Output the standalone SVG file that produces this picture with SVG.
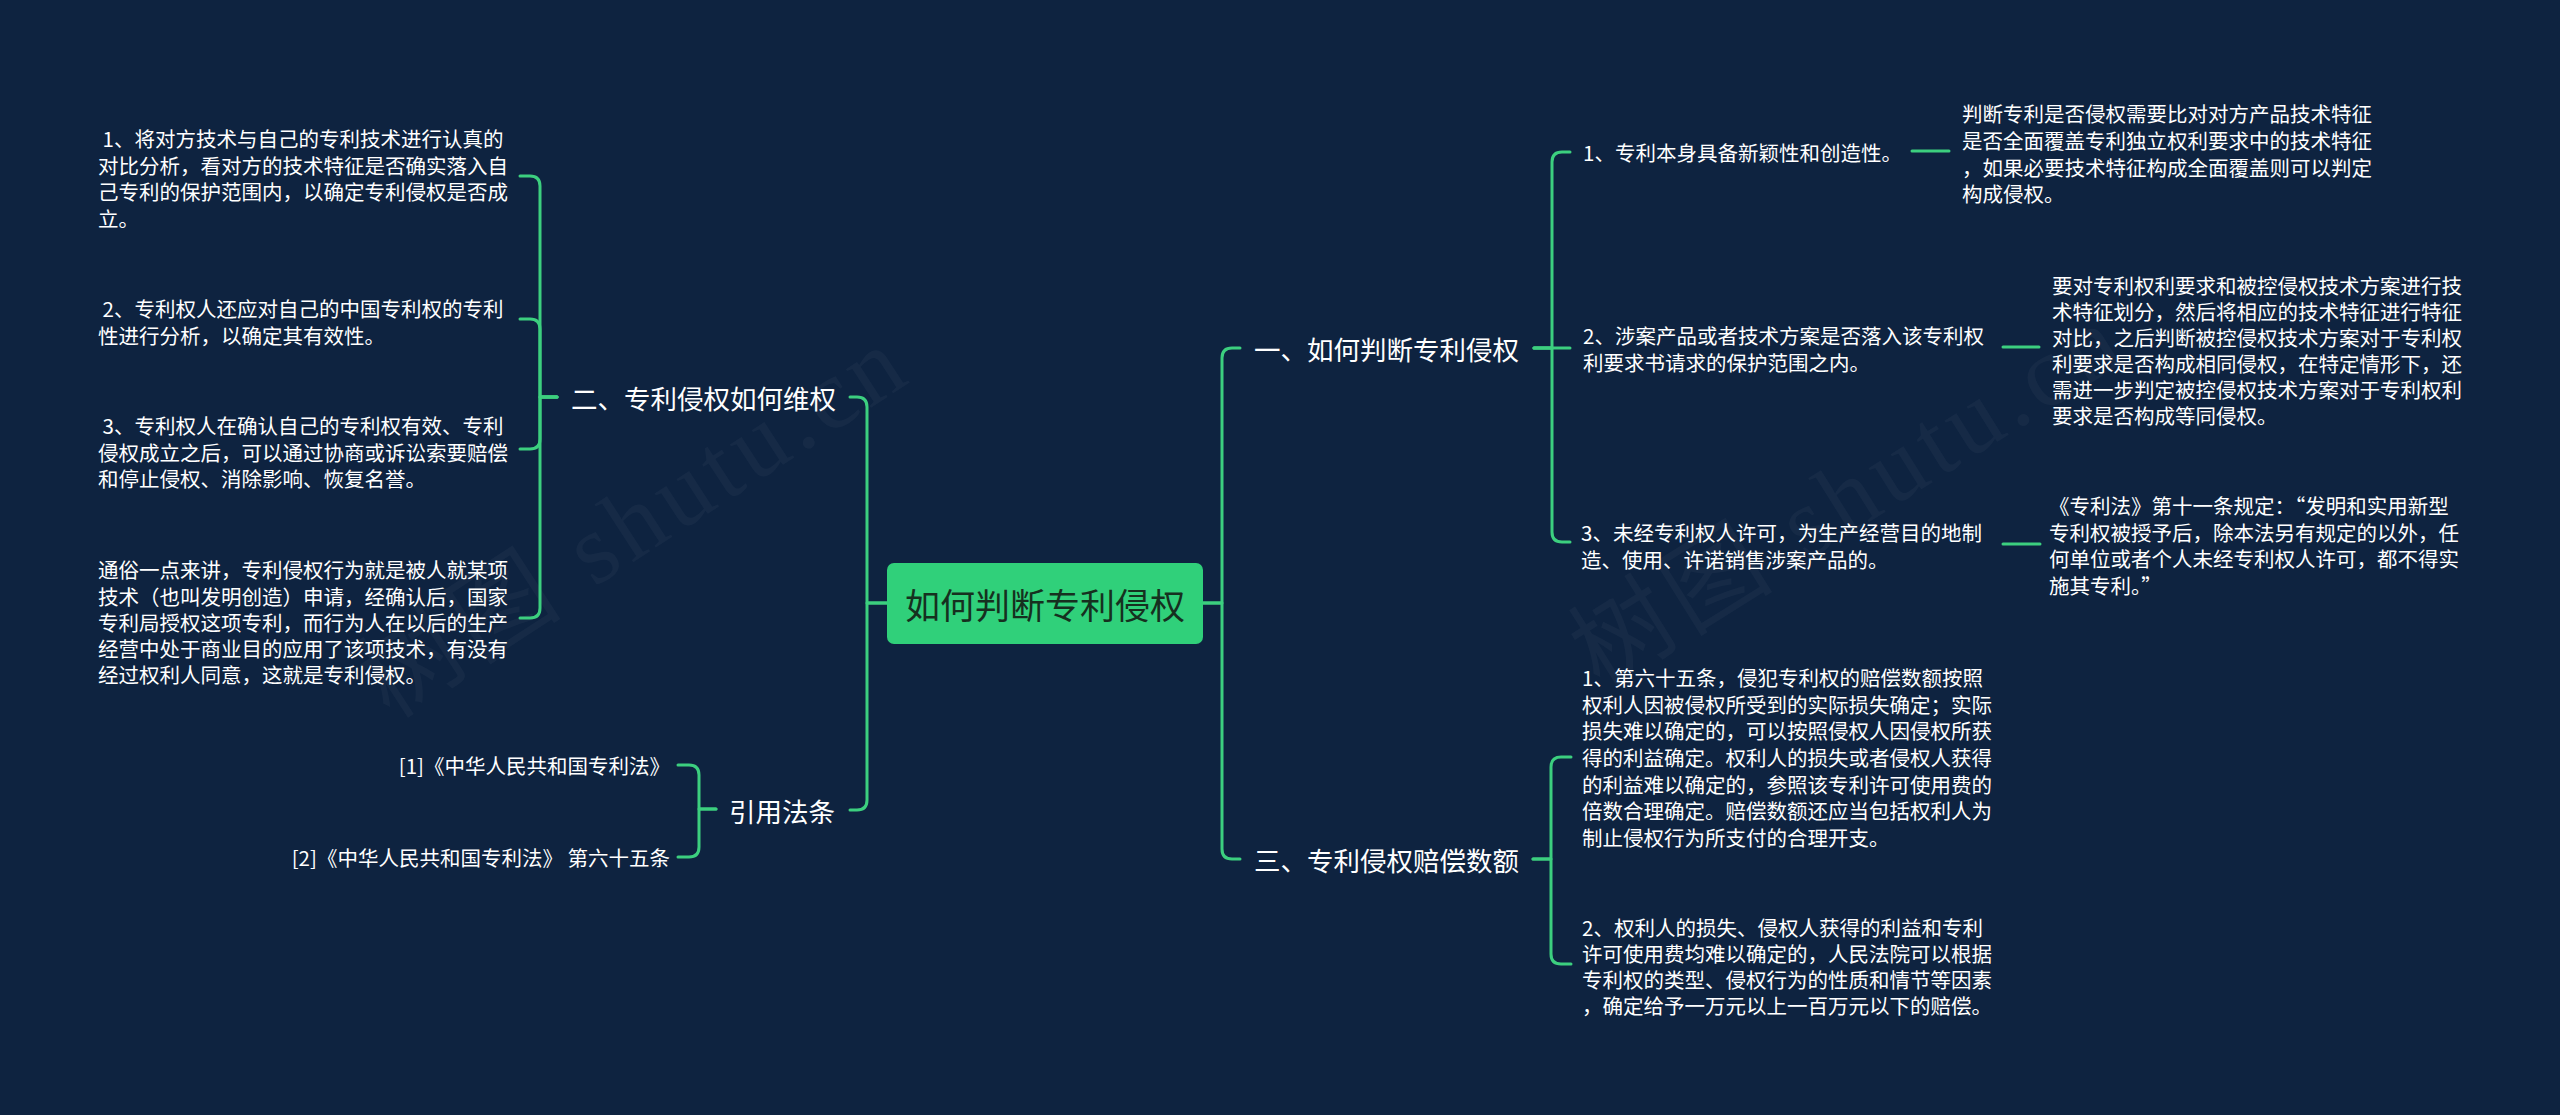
<svg xmlns="http://www.w3.org/2000/svg" width="2560" height="1115" viewBox="0 0 2560 1115">
<style>
.t{font-family:"Noto Sans CJK SC","Noto Sans",sans-serif;fill:#ffffff;dominant-baseline:central}
.leaf{font-size:20.5px}
.l1{font-size:26.5px}
.root{font-size:35px;fill:#16301f}
.wm{font-family:"Liberation Serif","Noto Sans CJK SC",serif;font-size:100px;fill:#ffffff;fill-opacity:0.035}
.c{fill:none;stroke:#3ccf7f;stroke-width:3;stroke-linecap:round;stroke-linejoin:round}
</style>
<rect width="2560" height="1115" fill="#0e2340"/>
<g id="watermark">
<text class="wm" transform="translate(390,720) rotate(-33)" letter-spacing="6">树图 shutu.cn</text>
<text class="wm" transform="translate(1600,690) rotate(-32)" letter-spacing="6">树图 shutu.cn</text>
</g>
<g id="connectors">
<path class="c" d="M887,603 H867 V407 Q867,397 857,397 H850"/>
<path class="c" d="M887,603 H867 V800 Q867,810 857,810 H850"/>
<path class="c" d="M1203,603 H1222 V358 Q1222,348 1232,348 H1240"/>
<path class="c" d="M1203,603 H1222 V849 Q1222,859 1232,859 H1240"/>
<path class="c" d="M557,397 H540 V186 Q540,176 530,176 H520"/>
<path class="c" d="M557,397 H540 V329 Q540,319 530,319 H520"/>
<path class="c" d="M557,397 H540 V439 Q540,449 530,449 H520"/>
<path class="c" d="M557,397 H540 V608 Q540,618 530,618 H520"/>
<path class="c" d="M716,809 H699 V775 Q699,765 689,765 H678"/>
<path class="c" d="M716,809 H699 V847 Q699,857 689,857 H678"/>
<path class="c" d="M1534,348 H1552 V162 Q1552,152 1562,152 H1570"/>
<path class="c" d="M1534,348 H1570"/>
<path class="c" d="M1534,348 H1552 V532 Q1552,542 1562,542 H1570"/>
<path class="c" d="M1533,859 H1551 V767 Q1551,757 1561,757 H1571"/>
<path class="c" d="M1533,859 H1551 V954 Q1551,964 1561,964 H1571"/>
<path class="c" d="M1912,151 H1949"/>
<path class="c" d="M2003,347 H2039"/>
<path class="c" d="M2003,544 H2040"/>
</g>
<g id="root">
<rect x="887" y="563" width="316" height="81" rx="7" fill="#30d07a"/>
<text class="t root" x="1045" y="603" text-anchor="middle">如何判断专利侵权</text>
</g>
<g id="n-left-2">
<text class="t l1" x="571" y="397">二、专利侵权如何维权</text>
</g>
<g id="n-left-2-1">
<text class="t leaf" x="98" y="138" xml:space="preserve"> 1、将对方技术与自己的专利技术进行认真的</text>
<text class="t leaf" x="98" y="164.5">对比分析，看对方的技术特征是否确实落入自</text>
<text class="t leaf" x="98" y="191">己专利的保护范围内，以确定专利侵权是否成</text>
<text class="t leaf" x="98" y="217.5">立。</text>
</g>
<g id="n-left-2-2">
<text class="t leaf" x="98" y="308" xml:space="preserve"> 2、专利权人还应对自己的中国专利权的专利</text>
<text class="t leaf" x="98" y="334.5">性进行分析，以确定其有效性。</text>
</g>
<g id="n-left-2-3">
<text class="t leaf" x="98" y="425" xml:space="preserve"> 3、专利权人在确认自己的专利权有效、专利</text>
<text class="t leaf" x="98" y="451.5">侵权成立之后，可以通过协商或诉讼索要赔偿</text>
<text class="t leaf" x="98" y="478">和停止侵权、消除影响、恢复名誉。</text>
</g>
<g id="n-left-2-4">
<text class="t leaf" x="98" y="569">通俗一点来讲，专利侵权行为就是被人就某项</text>
<text class="t leaf" x="98" y="595.5">技术（也叫发明创造）申请，经确认后，国家</text>
<text class="t leaf" x="98" y="622">专利局授权这项专利，而行为人在以后的生产</text>
<text class="t leaf" x="98" y="648">经营中处于商业目的应用了该项技术，有没有</text>
<text class="t leaf" x="98" y="674">经过权利人同意，这就是专利侵权。</text>
</g>
<g id="n-left-ref">
<text class="t l1" x="729" y="810">引用法条</text>
</g>
<g id="n-ref-1">
<text class="t leaf" x="670" y="765" text-anchor="end">[1]《中华人民共和国专利法》</text>
</g>
<g id="n-ref-2">
<text class="t leaf" x="670" y="857" text-anchor="end">[2]《中华人民共和国专利法》 第六十五条</text>
</g>
<g id="n-right-1">
<text class="t l1" x="1254" y="348">一、如何判断专利侵权</text>
</g>
<g id="n-right-1-1">
<text class="t leaf" x="1583" y="152">1、专利本身具备新颖性和创造性。</text>
</g>
<g id="n-right-1-1-1">
<text class="t leaf" x="1962" y="113">判断专利是否侵权需要比对对方产品技术特征</text>
<text class="t leaf" x="1962" y="140">是否全面覆盖专利独立权利要求中的技术特征</text>
<text class="t leaf" x="1962" y="167">，如果必要技术特征构成全面覆盖则可以判定</text>
<text class="t leaf" x="1962" y="193">构成侵权。</text>
</g>
<g id="n-right-1-2">
<text class="t leaf" x="1583" y="335">2、涉案产品或者技术方案是否落入该专利权</text>
<text class="t leaf" x="1583" y="362">利要求书请求的保护范围之内。</text>
</g>
<g id="n-right-1-2-1">
<text class="t leaf" x="2052" y="285">要对专利权利要求和被控侵权技术方案进行技</text>
<text class="t leaf" x="2052" y="311">术特征划分，然后将相应的技术特征进行特征</text>
<text class="t leaf" x="2052" y="337">对比，之后判断被控侵权技术方案对于专利权</text>
<text class="t leaf" x="2052" y="363">利要求是否构成相同侵权，在特定情形下，还</text>
<text class="t leaf" x="2052" y="389">需进一步判定被控侵权技术方案对于专利权利</text>
<text class="t leaf" x="2052" y="415">要求是否构成等同侵权。</text>
</g>
<g id="n-right-1-3">
<text class="t leaf" x="1581" y="532">3、未经专利权人许可，为生产经营目的地制</text>
<text class="t leaf" x="1581" y="559">造、使用、许诺销售涉案产品的。</text>
</g>
<g id="n-right-1-3-1">
<text class="t leaf" x="2049" y="505">《专利法》第十一条规定：“发明和实用新型</text>
<text class="t leaf" x="2049" y="532">专利权被授予后，除本法另有规定的以外，任</text>
<text class="t leaf" x="2049" y="558">何单位或者个人未经专利权人许可，都不得实</text>
<text class="t leaf" x="2049" y="585">施其专利。”</text>
</g>
<g id="n-right-3">
<text class="t l1" x="1254" y="859">三、专利侵权赔偿数额</text>
</g>
<g id="n-right-3-1">
<text class="t leaf" x="1582" y="677">1、第六十五条，侵犯专利权的赔偿数额按照</text>
<text class="t leaf" x="1582" y="703.5">权利人因被侵权所受到的实际损失确定；实际</text>
<text class="t leaf" x="1582" y="730">损失难以确定的，可以按照侵权人因侵权所获</text>
<text class="t leaf" x="1582" y="757">得的利益确定。权利人的损失或者侵权人获得</text>
<text class="t leaf" x="1582" y="783.5">的利益难以确定的，参照该专利许可使用费的</text>
<text class="t leaf" x="1582" y="810">倍数合理确定。赔偿数额还应当包括权利人为</text>
<text class="t leaf" x="1582" y="837">制止侵权行为所支付的合理开支。</text>
</g>
<g id="n-right-3-2">
<text class="t leaf" x="1582" y="927">2、权利人的损失、侵权人获得的利益和专利</text>
<text class="t leaf" x="1582" y="953">许可使用费均难以确定的，人民法院可以根据</text>
<text class="t leaf" x="1582" y="979">专利权的类型、侵权行为的性质和情节等因素</text>
<text class="t leaf" x="1582" y="1005">，确定给予一万元以上一百万元以下的赔偿。</text>
</g>
</svg>
